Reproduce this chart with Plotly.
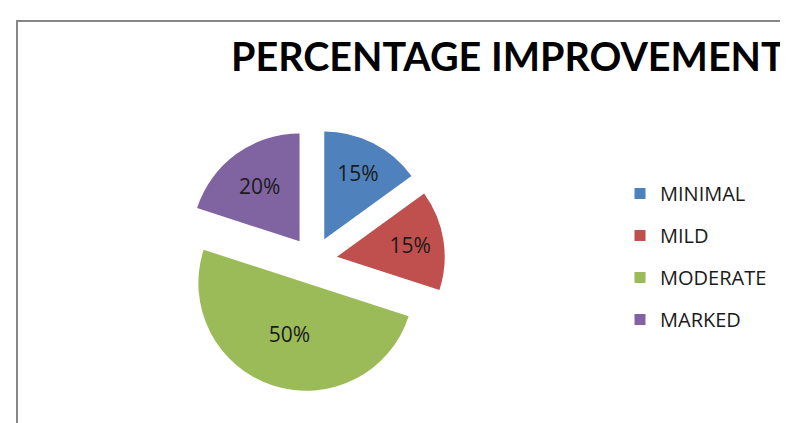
import plotly.graph_objects as go

categories = ["MINIMAL", "MILD", "MODERATE", "MARKED"]
values = [15, 15, 50, 20]
colors = ["#4F81BD", "#C0504D", "#9BBB59", "#8064A2"]

W, H = 788, 423
FONT = "Open Sans"

fig = go.Figure()

fig.add_trace(go.Pie(
    labels=categories,
    values=values,
    sort=False,
    direction="clockwise",
    rotation=0,
    pull=[0.22] * len(values),
    marker=dict(colors=colors, line=dict(width=0)),
    textinfo="percent",
    textposition="inside",
    insidetextorientation="horizontal",
    textfont=dict(family=FONT, size=21, color="#1a1a1a"),
    domain=dict(x=[174 / W, 437 / W], y=[1 - 384 / H, 1 - 121 / H]),
    showlegend=False,
    hoverinfo="label+percent",
))

# legend entries (one group each so spacing can match)
for i, (c, col) in enumerate(zip(categories, colors)):
    fig.add_trace(go.Scatter(
        x=[None], y=[None], mode="markers", name=c,
        marker=dict(symbol="square", size=11, color=col),
        legendgroup=c, showlegend=True,
    ))

fig.update_layout(
    width=W, height=H,
    margin=dict(l=0, r=0, t=0, b=0),
    paper_bgcolor="white",
    plot_bgcolor="white",
    xaxis=dict(visible=False),
    yaxis=dict(visible=False),
    legend=dict(
        x=612 / W, y=1 - 166 / H, xanchor="left", yanchor="top",
        font=dict(family=FONT, size=20, color="#1a1a1a"),
        tracegroupgap=13,
        itemwidth=30,
        bgcolor="rgba(0,0,0,0)",
    ),
    annotations=[dict(
        text="<b>PERCENTAGE IMPROVEMENT</b>",
        x=779 / W, y=1 - 47 / H, xref="paper", yref="paper",
        xanchor="right", yanchor="middle", showarrow=False,
        font=dict(family="Lato", size=39.5, color="#000000"),
    )],
    shapes=[
        dict(type="line", xref="paper", yref="paper",
             x0=8 / W, x1=1, y0=1 - 13 / H, y1=1 - 13 / H,
             line=dict(color="#878787", width=2)),
        dict(type="line", xref="paper", yref="paper",
             x0=9 / W, x1=9 / W, y0=1 - 13 / H, y1=0,
             line=dict(color="#878787", width=2)),
    ],
)

fig.write_html("out.html")
